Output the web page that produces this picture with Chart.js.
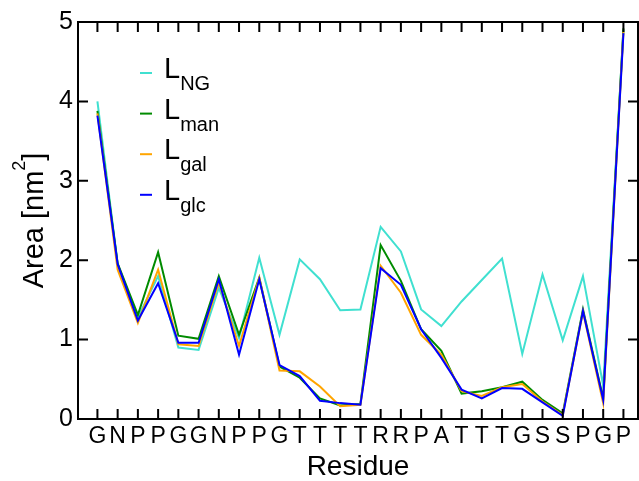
<!DOCTYPE html>
<html>
<head>
<meta charset="utf-8">
<script src="https://cdn.jsdelivr.net/npm/chart.js@4.4.0/dist/chart.umd.min.js"></script>
<style>
  html, body { margin: 0; padding: 0; background: #fff; }
</style>
</head>
<body>
<canvas id="areaChart" width="639" height="481"></canvas>
<script>
// residue sequence along the peptide
const residues = ['G','N','P','P','G','G','N','P','P','G','T','T','T','T','R','R','P','A','T','T','T','G','S','S','P','G','P'];

// accessible area per residue, nm^2
const areaNG  = [4.00, 1.95, 1.28, 1.80, 0.90, 0.87, 1.65, 1.02, 2.03, 1.06, 2.01, 1.76, 1.37, 1.38, 2.42, 2.11, 1.38, 1.17, 1.48, 1.75, 2.02, 0.82, 1.82, 0.99, 1.80, 0.42, 4.90];
const areaMan = [3.88, 1.96, 1.31, 2.10, 1.05, 1.01, 1.80, 1.06, 1.78, 0.66, 0.52, 0.26, 0.17, 0.19, 2.19, 1.74, 1.13, 0.86, 0.32, 0.35, 0.40, 0.47, 0.24, 0.07, 1.38, 0.26, 4.92];
const areaGal = [3.85, 1.88, 1.21, 1.88, 0.94, 0.92, 1.72, 0.92, 1.78, 0.61, 0.60, 0.41, 0.16, 0.18, 1.93, 1.59, 1.06, 0.81, 0.35, 0.29, 0.40, 0.44, 0.22, 0.05, 1.35, 0.20, 4.88];
const areaGlc = [3.82, 1.95, 1.24, 1.71, 0.96, 0.96, 1.76, 0.81, 1.76, 0.68, 0.54, 0.23, 0.20, 0.18, 1.90, 1.69, 1.13, 0.77, 0.37, 0.26, 0.39, 0.38, 0.21, 0.04, 1.36, 0.24, 4.86];

const yTicks = [0, 1, 2, 3, 4, 5];
const seriesSubs = ['NG', 'man', 'gal', 'glc'];
const seriesColors = ['#40e0d0', '#008b00', '#ffa500', '#0000ff'];

const FONT = "'Liberation Sans', Arial, Helvetica, sans-serif";

function toPoints(values) {
  return values.map((v, i) => ({ x: i, y: v }));
}

// xmgrace-style frame with inward ticks on all four sides
const frameTicks = {
  id: 'frameTicks',
  afterDatasetsDraw(chart) {
    const { ctx, chartArea: a, scales: { x, y } } = chart;
    ctx.save();
    ctx.strokeStyle = '#000';
    ctx.lineWidth = 2;
    ctx.beginPath();
    residues.forEach((_, i) => {
      const px = x.getPixelForValue(i);
      ctx.moveTo(px, a.bottom); ctx.lineTo(px, a.bottom - 10);
      ctx.moveTo(px, a.top); ctx.lineTo(px, a.top + 10);
    });
    yTicks.forEach(v => {
      const py = y.getPixelForValue(v);
      ctx.moveTo(a.left, py); ctx.lineTo(a.left + 10, py);
      ctx.moveTo(a.right, py); ctx.lineTo(a.right - 10, py);
    });
    ctx.stroke();
    ctx.strokeRect(a.left, a.top, a.right - a.left, a.bottom - a.top);
    ctx.restore();
  }
};

// legend with subscripted labels
const subLegend = {
  id: 'subLegend',
  afterDraw(chart) {
    const ctx = chart.ctx;
    ctx.save();
    seriesSubs.forEach((sub, k) => {
      const base = 78 + 40.6 * k;
      ctx.strokeStyle = seriesColors[k];
      ctx.lineWidth = 2;
      ctx.beginPath();
      ctx.moveTo(140, base - 5);
      ctx.lineTo(152, base - 5);
      ctx.stroke();
      ctx.fillStyle = '#000';
      ctx.textBaseline = 'alphabetic';
      ctx.font = '29px ' + FONT;
      ctx.fillText('L', 164, base);
      const w = ctx.measureText('L').width;
      ctx.font = '20px ' + FONT;
      ctx.fillText(sub, 164 + w, base + 12);
    });
    ctx.restore();
  }
};

// y axis title with a proper superscript
const yTitle = {
  id: 'yTitle',
  afterDraw(chart) {
    const { ctx, chartArea: a } = chart;
    ctx.save();
    ctx.fillStyle = '#000';
    ctx.textBaseline = 'alphabetic';
    ctx.textAlign = 'left';
    const big = '29px ' + FONT, small = '18px ' + FONT;
    ctx.font = big;
    const w1 = ctx.measureText('Area [nm').width;
    const w3 = ctx.measureText(']').width;
    ctx.font = small;
    const w2 = ctx.measureText('2').width;
    const total = w1 + w2 + w3;
    ctx.translate(43, (a.top + a.bottom) / 2 + total / 2);
    ctx.rotate(-Math.PI / 2);
    ctx.font = big;
    ctx.fillText('Area [nm', 0, 0);
    ctx.fillText(']', w1 + w2, 0);
    ctx.font = small;
    ctx.fillText('2', w1, -18);
    ctx.restore();
  }
};

new Chart(document.getElementById('areaChart'), {
  type: 'line',
  data: {
    datasets: [
      { data: toPoints(areaNG),  borderColor: seriesColors[0], order: 4 },
      { data: toPoints(areaMan), borderColor: seriesColors[1], order: 3 },
      { data: toPoints(areaGal), borderColor: seriesColors[2], order: 2 },
      { data: toPoints(areaGlc), borderColor: seriesColors[3], order: 1 }
    ]
  },
  options: {
    responsive: false,
    animation: false,
    devicePixelRatio: 1,
    layout: { padding: { top: 22, right: 1, left: 0, bottom: 0 } },
    elements: {
      line: { borderWidth: 2, tension: 0, fill: false },
      point: { radius: 0 }
    },
    plugins: {
      legend: { display: false },
      tooltip: { enabled: false }
    },
    scales: {
      x: {
        type: 'linear',
        min: -0.96,
        max: 26.72,
        afterFit(scale) { scale.height = 62; },
        afterBuildTicks(scale) { scale.ticks = residues.map((_, i) => ({ value: i })); },
        grid: { display: false, drawTicks: false },
        border: { display: false },
        ticks: {
          autoSkip: false,
          maxRotation: 0,
          padding: 4,
          color: '#000',
          font: { family: FONT, size: 23 },
          callback: value => residues[value]
        },
        title: {
          display: true,
          text: 'Residue',
          color: '#000',
          font: { family: FONT, size: 28, lineHeight: 1 },
          padding: { top: 0, bottom: 0 }
        }
      },
      y: {
        min: 0,
        max: 5,
        afterFit(scale) { scale.width = 78; },
        afterBuildTicks(scale) { scale.ticks = yTicks.map(v => ({ value: v })); },
        grid: { display: false, drawTicks: false },
        border: { display: false },
        ticks: {
          padding: 5,
          color: '#000',
          font: { family: FONT, size: 25 }
        }
      }
    }
  },
  plugins: [frameTicks, subLegend, yTitle]
});
</script>
</body>
</html>
